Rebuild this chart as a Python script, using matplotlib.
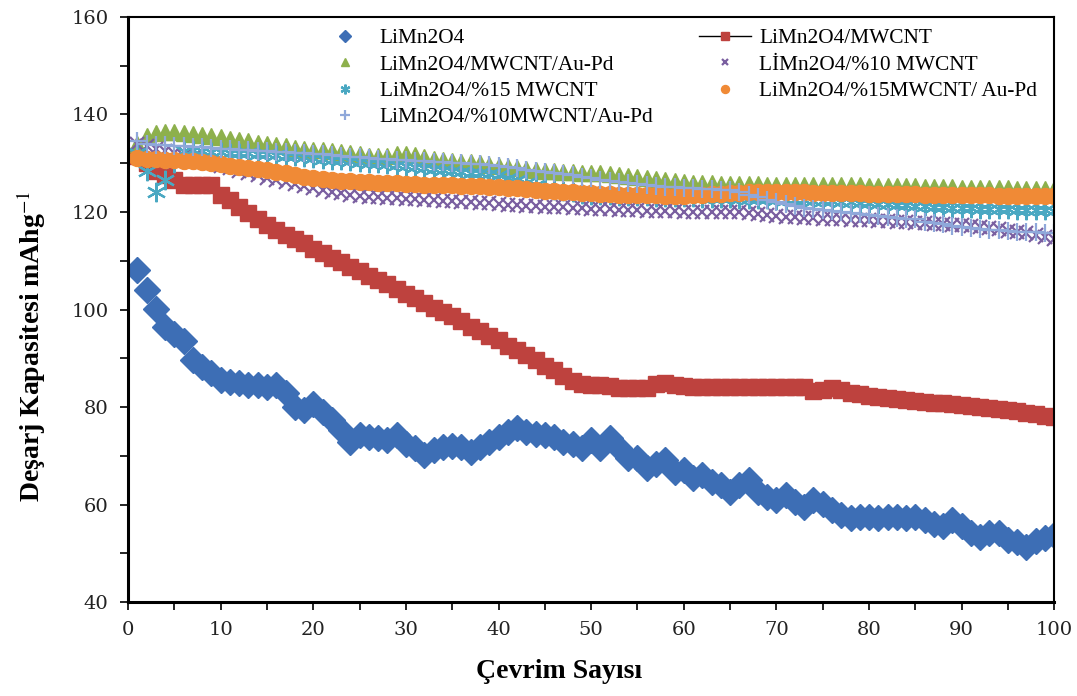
import matplotlib
matplotlib.use("Agg")
import matplotlib.pyplot as plt
from matplotlib.ticker import MultipleLocator

plt.rcParams["mathtext.fontset"] = "stix"

cycles = list(range(1, 101))

limn2o4 = [108.2, 103.9, 100.2, 96.5, 95.0, 93.5, 89.6, 88.3, 86.9, 85.5,
           85.2, 85.0, 84.5, 84.5, 84.2, 84.5, 82.8, 80.1, 79.4, 80.7,
           79.0, 77.3, 75.3, 72.9, 74.2, 73.9, 73.6, 73.2, 74.2, 72.5,
           71.5, 70.1, 71.2, 71.9, 72.0, 71.9, 70.8, 71.9, 72.9, 73.9,
           74.9, 75.6, 74.9, 74.5, 74.2, 73.9, 72.9, 72.5, 71.5, 73.2,
           71.5, 73.6, 71.5, 69.5, 69.5, 67.4, 68.4, 69.1, 66.7, 67.1,
           65.4, 66.0, 64.7, 64.0, 62.6, 64.0, 65.0, 62.6, 61.6, 60.9,
           61.9, 60.6, 59.5, 60.9, 60.2, 58.9, 57.8, 57.2, 57.5, 57.5,
           57.2, 57.5, 57.5, 57.2, 57.5, 56.8, 56.1, 55.5, 56.8, 55.5,
           54.1, 53.4, 54.1, 54.1, 52.7, 52.4, 51.3, 52.5, 53.1, 53.7]

mwcnt = [131.5, 130.0, 128.5, 127.5, 126.5, 125.5, 125.5, 125.5, 125.5, 123.5,
         122.5, 121.0, 119.8, 118.6, 117.4, 116.3, 115.3, 114.4, 113.6, 112.5,
         111.5, 110.6, 109.7, 108.8, 107.8, 106.9, 106.0, 105.2, 104.2, 103.2,
         102.4, 101.4, 100.4, 99.5, 98.6, 97.6, 96.5, 95.5, 94.6, 93.7,
         92.6, 91.6, 90.6, 89.6, 88.5, 87.5, 86.3, 85.4, 84.8, 84.6,
         84.5, 84.4, 84.0, 83.9, 83.8, 83.8, 84.8, 85.0, 84.5, 84.3,
         84.2, 84.2, 84.2, 84.2, 84.2, 84.2, 84.1, 84.1, 84.1, 84.1,
         84.1, 84.1, 84.1, 83.2, 83.5, 84.0, 83.4, 82.9, 82.6, 82.3,
         82.1, 81.9, 81.7, 81.5, 81.3, 81.1, 80.9, 80.8, 80.6, 80.4,
         80.2, 80.0, 79.8, 79.6, 79.4, 79.1, 78.8, 78.5, 78.2, 78.0]

mwcnt_aupd = [134.0, 135.5, 136.3, 136.5, 136.5, 136.3, 136.0, 135.8, 135.5, 135.3,
              135.0, 134.7, 134.5, 134.2, 134.0, 133.7, 133.5, 133.2, 133.0, 132.8,
              132.7, 132.5, 132.3, 132.0, 131.8, 131.5, 131.4, 131.5, 131.8, 131.8,
              131.6, 131.2, 130.9, 130.6, 130.4, 130.2, 130.2, 130.0, 129.7, 129.4,
              129.2, 129.0, 128.8, 128.6, 128.5, 128.4, 128.3, 128.2, 128.1, 128.0,
              128.0, 127.7, 127.5, 127.3, 127.1, 126.9, 126.7, 126.5, 126.3, 126.1,
              126.0, 125.9, 125.9, 125.8, 125.8, 125.7, 125.7, 125.7, 125.6, 125.6,
              125.6, 125.6, 125.5, 125.5, 125.5, 125.5, 125.5, 125.5, 125.5, 125.4,
              125.4, 125.4, 125.3, 125.3, 125.3, 125.2, 125.2, 125.1, 125.1, 125.0,
              125.0, 125.0, 124.9, 124.9, 124.9, 124.8, 124.8, 124.8, 124.7, 124.7]

p10_mwcnt = [134.0, 133.5, 133.0, 132.5, 132.0, 131.5, 131.0, 130.5, 130.0, 129.5,
             129.0, 128.5, 128.0, 127.5, 127.0, 126.6, 126.2, 125.8, 125.4, 125.0,
             124.6, 124.2, 123.8, 123.4, 123.2, 123.1, 123.0, 122.9, 122.8, 122.7,
             122.6, 122.5, 122.4, 122.3, 122.2, 122.1, 122.0, 121.9, 121.8, 121.6,
             121.5, 121.4, 121.3, 121.2, 121.1, 121.0, 121.0, 120.9, 120.8, 120.7,
             120.6, 120.6, 120.5, 120.4, 120.4, 120.3, 120.3, 120.2, 120.2, 120.1,
             120.1, 120.0, 120.0, 120.0, 120.0, 119.9, 119.8, 119.6, 119.4, 119.2,
             119.0, 118.9, 118.8, 118.7, 118.6, 118.5, 118.5, 118.4, 118.4, 118.3,
             118.2, 118.1, 118.0, 117.9, 117.8, 117.7, 117.6, 117.5, 117.4, 117.3,
             117.2, 117.0, 116.8, 116.5, 116.2, 116.0, 115.7, 115.3, 114.9, 114.4]

p15_mwcnt = [132.0, 128.5, 124.0, 126.5, 130.0, 132.5, 132.8, 132.6, 132.4, 132.3,
             132.2, 132.1, 132.0, 131.9, 131.8, 131.6, 131.5, 131.4, 131.2, 131.0,
             130.9, 130.7, 130.6, 130.4, 130.3, 130.1, 130.0, 129.8, 129.7, 129.5,
             129.3, 129.1, 128.9, 128.7, 128.5, 128.3, 128.1, 127.9, 127.7, 127.5,
             127.0, 126.5, 126.0, 125.5, 125.0, 124.6, 124.3, 124.0, 123.7, 123.5,
             123.4, 123.4, 123.3, 123.3, 123.2, 123.2, 123.1, 123.1, 123.0, 123.0,
             123.0, 122.9, 122.9, 122.8, 122.8, 122.7, 122.7, 122.6, 122.6, 122.5,
             122.5, 122.4, 122.4, 122.3, 122.3, 122.2, 122.1, 122.0, 121.9, 121.8,
             121.7, 121.6, 121.5, 121.4, 121.3, 121.2, 121.1, 121.0, 120.9, 120.8,
             120.8, 120.7, 120.7, 120.6, 120.6, 120.5, 120.5, 120.4, 120.4, 120.3]

p15_aupd = [131.0, 130.8, 130.8, 130.7, 130.6, 130.5, 130.4, 130.2, 130.0, 129.8,
            129.5, 129.3, 129.0, 128.8, 128.6, 128.3, 128.0, 127.6, 127.2, 127.0,
            126.8, 126.6, 126.4, 126.3, 126.2, 126.1, 126.0, 126.0, 125.9, 125.8,
            125.7, 125.6, 125.6, 125.5, 125.5, 125.4, 125.4, 125.3, 125.2, 125.2,
            125.0, 124.9, 124.7, 124.6, 124.4, 124.3, 124.1, 124.0, 123.9, 123.8,
            123.7, 123.6, 123.5, 123.5, 123.4, 123.4, 123.4, 123.3, 123.3, 123.3,
            123.4, 123.5, 123.6, 123.7, 123.8, 123.9, 124.0, 124.0, 124.0, 124.0,
            124.0, 124.0, 124.0, 123.9, 123.9, 123.9, 123.8, 123.8, 123.8, 123.7,
            123.7, 123.7, 123.6, 123.6, 123.6, 123.5, 123.5, 123.5, 123.5, 123.4,
            123.4, 123.4, 123.4, 123.3, 123.3, 123.3, 123.3, 123.3, 123.2, 123.2]

p10_aupd = [134.5, 134.0, 133.8, 133.7, 133.6, 133.5, 133.4, 133.3, 133.2, 133.0,
            132.9, 132.8, 132.7, 132.6, 132.5, 132.4, 132.3, 132.2, 132.0, 131.9,
            131.8, 131.6, 131.5, 131.3, 131.2, 131.0, 130.9, 130.8, 130.7, 130.6,
            130.5, 130.4, 130.3, 130.2, 130.1, 130.0, 129.9, 129.8, 129.6, 129.5,
            129.2, 129.0, 128.7, 128.5, 128.2, 128.0, 127.7, 127.5, 127.2, 127.0,
            126.5, 126.3, 126.1, 125.9, 125.7, 125.5, 125.3, 125.2, 125.1, 125.0,
            124.9, 124.8, 124.7, 124.6, 124.5, 124.0, 123.5, 123.0, 122.5, 122.0,
            121.6, 121.2, 120.9, 120.7, 120.5, 120.2, 120.0, 119.8, 119.6, 119.4,
            119.2, 119.0, 118.8, 118.6, 118.5, 118.0, 117.7, 117.5, 117.2, 117.0,
            116.8, 116.6, 116.4, 116.3, 116.1, 116.0, 115.9, 115.8, 115.7, 115.6]

labels = ["LiMn2O4", "LiMn2O4/MWCNT", "LiMn2O4/MWCNT/Au-Pd", "LİMn2O4/%10 MWCNT",
          "LiMn2O4/%15 MWCNT", "LiMn2O4/%15MWCNT/ Au-Pd", "LiMn2O4/%10MWCNT/Au-Pd"]

fig = plt.figure(figsize=(10.77, 6.96), dpi=100)
ax = fig.add_axes([0.1189, 0.135, 0.86, 0.8406])

serif = "Liberation Serif"
c_blue = "#3D6EB5"
c_red = "#BE423E"
c_green = "#8DB04C"
c_purple = "#7A5FA0"
c_cyan = "#4AA8C2"
c_orange = "#F08A36"
c_lav = "#8FA8DA"

h = []
h.append(ax.plot(cycles, limn2o4, ls="none", marker="D", ms=13, color=c_blue,
                 mec=c_blue)[0])
h.append(ax.plot(cycles, mwcnt, ls="-", lw=1, color="black", marker="s", ms=12,
                 mfc=c_red, mec=c_red)[0])
h.append(ax.plot(cycles, mwcnt_aupd, ls="none", marker="^", ms=12, color=c_green,
                 mec=c_green)[0])
h.append(ax.plot(cycles, p10_mwcnt, ls="none", marker="x", ms=10, mew=1.6,
                 color=c_purple)[0])
h.append(ax.plot(cycles, p15_mwcnt, ls="none", marker=(6, 2, 0), ms=14, mew=1.6,
                 color=c_cyan)[0])
h.append(ax.plot(cycles, p15_aupd, ls="none", marker="o", ms=11.5, color=c_orange,
                 mec=c_orange)[0])
h.append(ax.plot(cycles, p10_aupd, ls="none", marker="+", ms=13, mew=1.6,
                 color=c_lav)[0])

ax.set_xlim(0, 100)
ax.set_ylim(40, 160)
ax.xaxis.set_major_locator(MultipleLocator(10))
ax.xaxis.set_minor_locator(MultipleLocator(5))
ax.yaxis.set_major_locator(MultipleLocator(20))
ax.yaxis.set_minor_locator(MultipleLocator(10))
ax.tick_params(which="both", direction="out", length=6, width=1.2, color="black")
ax.tick_params(which="major", labelsize=14, pad=8)
for lab in ax.get_xticklabels() + ax.get_yticklabels():
    lab.set_family("DejaVu Serif")
    lab.set_color("#222222")

for side in ["left", "bottom"]:
    ax.spines[side].set_linewidth(2.2)
for side in ["top", "right"]:
    ax.spines[side].set_linewidth(1.5)
for s in ax.spines.values():
    s.set_color("black")

fig.text(559 / 1077, 1 - 672 / 696, "Çevrim Sayısı", family=serif, weight="bold",
         fontsize=20, ha="center", va="center")
fig.text(31 / 1077, 1 - 346 / 696, "Deşarj Kapasitesi mAhg$^{-1}$", family=serif,
         weight="bold", fontsize=20, ha="center", va="center", rotation=90)

order = [0, 2, 4, 6, 1, 3, 5]
leg = fig.legend([h[i] for i in order], [labels[i] for i in order],
                 loc="upper left", bbox_to_anchor=(0.281, 0.984), ncol=2,
                 frameon=False, prop={"family": serif, "size": 15.4},
                 markerscale=0.5, handlelength=2.4, handletextpad=0.4,
                 labelspacing=0.3, columnspacing=2.15, borderpad=0.3)

fig.savefig("out.png", dpi=100)
